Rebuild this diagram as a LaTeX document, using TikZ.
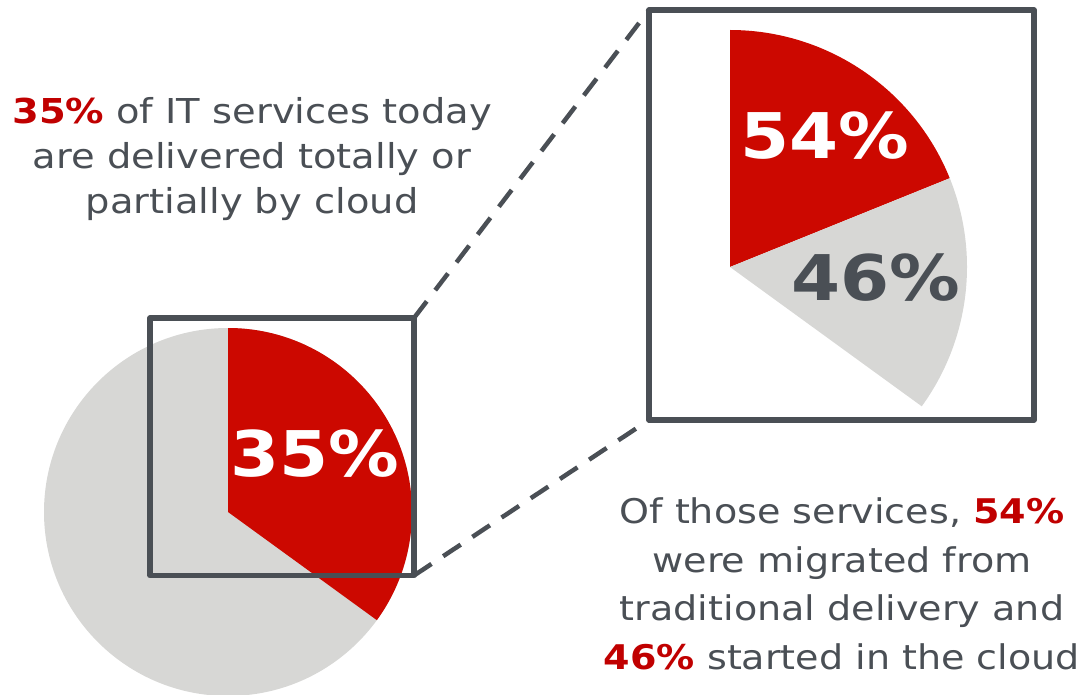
\documentclass[tikz,border=0pt]{standalone}
\usepackage{fontspec}
\setmainfont{DejaVu Sans}[FakeStretch=1.12]
\definecolor{slate}{HTML}{4A4F55}
\definecolor{piered}{HTML}{CC0800}
\definecolor{textred}{HTML}{C00000}
\definecolor{piegray}{HTML}{D7D7D5}
\tikzset{
  frame/.style={draw=slate,line width=5.5pt,outer sep=0pt,inner sep=0pt,line join=round},
  zoomline/.style={draw=slate,line width=4.5pt,dash pattern=on 21pt off 14pt},
  note/.style={text=slate,font=\fontsize{34.3}{45}\selectfont,align=center,inner sep=0pt},
  pct/.style={font=\bfseries\fontsize{63}{63}\selectfont,inner sep=0pt},
}
\begin{document}
\begin{tikzpicture}[x=1pt,y=1pt]
\useasboundingbox (0,0) rectangle (1084,-695);
% whole pie
\fill[piegray] (228,-512) circle (184);
\fill[piered] (228,-512) -- ++(90:184) arc[start angle=90,end angle=-36,radius=184] -- cycle;
\node[pct,text=white] (pctall) at (315,-454) {35\%};
\node[frame,minimum width=264pt,minimum height=257.5pt] (zoombox) at (282,-446.75) {};
% zoomed slice
\node[frame,minimum width=385pt,minimum height=410pt] (bigbox) at (841.5,-215) {};
\fill[piered] (730,-267) -- ++(90:237) arc[start angle=90,end angle=22,radius=237] -- cycle;
\fill[piegray] (730,-267) -- ++(22:237) arc[start angle=22,end angle=-36,radius=237] -- cycle;
\node[pct,text=white] (pctmig) at (825,-136) {54\%};
\node[pct,text=slate] (pctnew) at (876,-278) {46\%};
\draw[zoomline] (zoombox.north east) -- (bigbox.north west);
\draw[zoomline] (zoombox.south east) -- (bigbox.south west);
% notes
\node[note] (topnote) at (252,-159) {{\bfseries\color{textred}35\%} of IT services today\\are delivered totally or\\partially by cloud};
\node[note,font=\fontsize{34}{48.5}\selectfont] (bottomnote) at (842,-584) {Of those services, {\bfseries\color{textred}54\%}\\were migrated from\\traditional delivery and\\{\bfseries\color{textred}46\%} started in the cloud};
\end{tikzpicture}
\end{document}
